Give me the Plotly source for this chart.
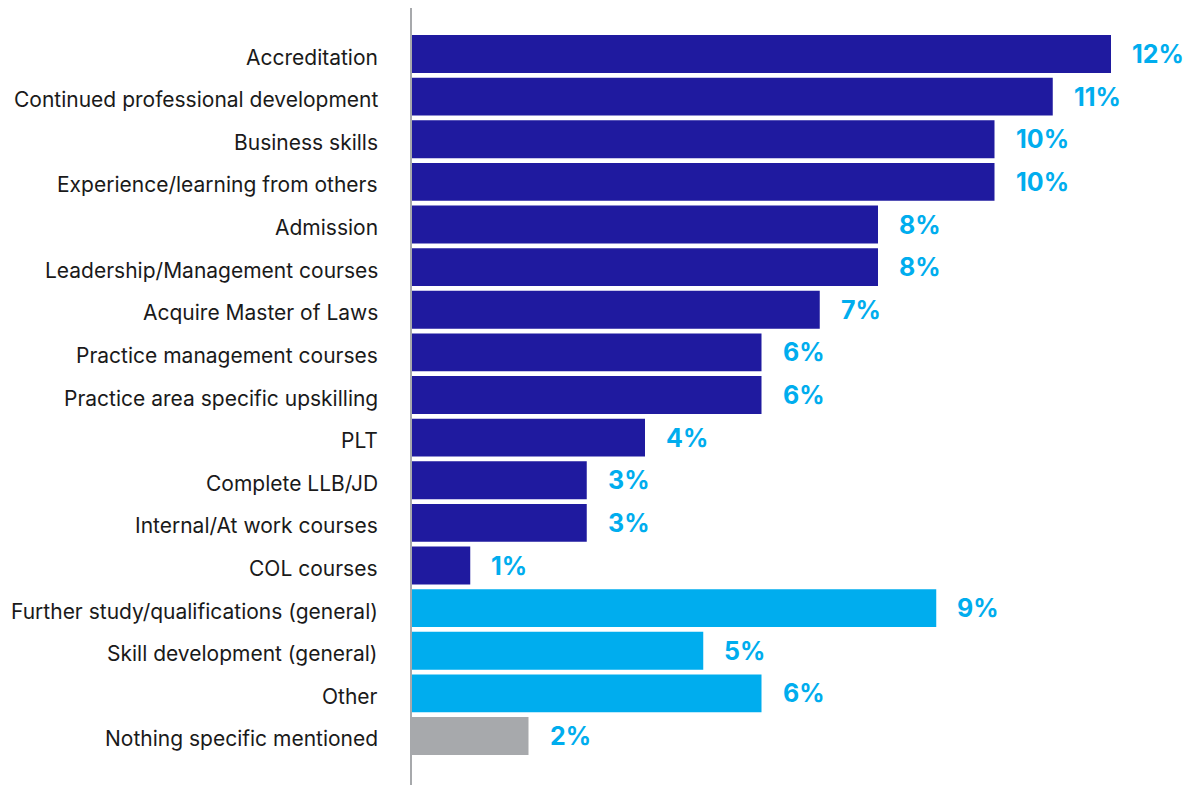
import plotly.graph_objects as go

# Development areas and share of respondents (%)
categories = [
    "Accreditation",
    "Continued professional development",
    "Business skills",
    "Experience/learning from others",
    "Admission",
    "Leadership/Management courses",
    "Acquire Master of Laws",
    "Practice management courses",
    "Practice area specific upskilling",
    "PLT",
    "Complete LLB/JD",
    "Internal/At work courses",
    "COL courses",
    "Further study/qualifications (general)",
    "Skill development (general)",
    "Other",
    "Nothing specific mentioned",
]
values = [12, 11, 10, 10, 8, 8, 7, 6, 6, 4, 3, 3, 1, 9, 5, 6, 2]
groups = ["specific"] * 13 + ["general"] * 3 + ["none"]

group_colors = {"specific": "#1f1a9f", "general": "#00adee", "none": "#a7a9ac"}
label_color = "#00adee"
text_color = "#1a1a1a"
font_family = "Inter, 'Open Sans', sans-serif"

fig = go.Figure(
    go.Bar(
        x=values,
        y=categories,
        orientation="h",
        marker=dict(color=[group_colors[g] for g in groups], line=dict(width=0)),
        hoverinfo="skip",
    )
)

# Value labels just past the end of each bar
for cat, val in zip(categories, values):
    fig.add_annotation(
        x=val,
        y=cat,
        text=f"<b>{val}%</b>",
        showarrow=False,
        xanchor="left",
        yanchor="middle",
        xshift=19,
        font=dict(family=font_family, size=25, color=label_color),
    )

# Category labels, right-aligned to the left of the axis line
for cat in categories:
    fig.add_annotation(
        x=0,
        xref="paper",
        y=cat,
        text=cat,
        showarrow=False,
        xanchor="right",
        yanchor="middle",
        xshift=-32,
        yshift=-3,
        font=dict(family=font_family, size=21, color=text_color),
    )

fig.update_layout(
    width=1191,
    height=785,
    margin=dict(l=412, r=80, t=8, b=0),
    paper_bgcolor="white",
    plot_bgcolor="white",
    bargap=0.11,
    showlegend=False,
    font=dict(family=font_family, size=21, color=text_color),
)
fig.update_xaxes(
    range=[0, 12],
    showgrid=False,
    zeroline=False,
    showticklabels=False,
    showline=False,
)
fig.update_yaxes(
    type="category",
    range=[len(categories) - 1 + 1.15, -1.08],
    showgrid=False,
    zeroline=False,
    showline=True,
    linecolor="#a7a9ac",
    linewidth=1.5,
    ticks="",
    showticklabels=False,
)

fig.write_html("out.html")
